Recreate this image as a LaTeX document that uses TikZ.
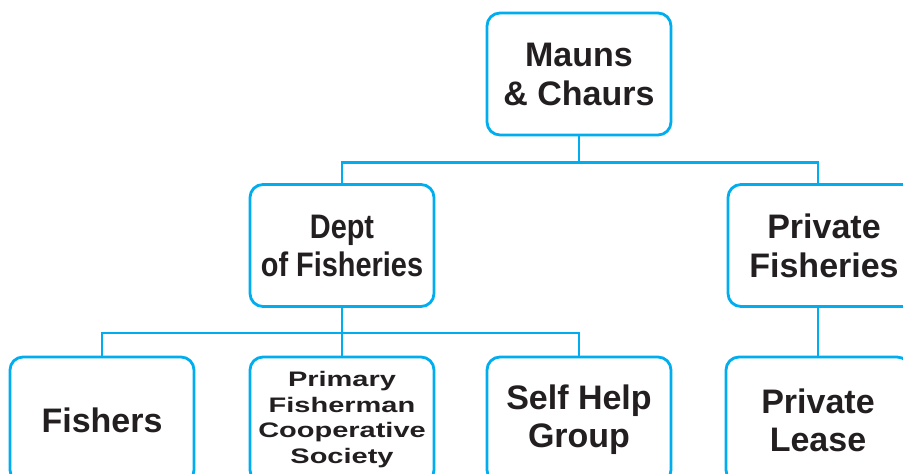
\documentclass[tikz,border=0pt]{standalone}
\usepackage{fontspec}
\setmainfont{Liberation Sans}
\newfontfamily\condfont{Liberation Sans}[FakeStretch=0.85]
\newfontfamily\widefont{Liberation Sans}[FakeStretch=1.38]
\definecolor{boxline}{HTML}{00AEEF}
\definecolor{ink}{HTML}{231F20}
\tikzset{
  orgbox/.style={draw=boxline, line width=2.8pt, rounded corners=13pt, fill=white,
    minimum width=184pt, minimum height=122pt, align=center, text=ink, inner sep=0pt,
    font=\bfseries\fontsize{34}{39}\selectfont},
  tallbox/.style={orgbox, minimum height=126pt},
  link/.style={draw=boxline, line width=2.8pt}
}
\begin{document}
\begin{tikzpicture}[x=1pt,y=1pt]
\useasboundingbox (0,0) rectangle (903,-474);
\clip (0,0) rectangle (903,-474);
\fill[white] (0,0) rectangle (903,-474);
% nodes
\node[orgbox] (mauns) at (579,-74) {Mauns\\\& Chaurs};
\node[orgbox, font=\bfseries\condfont\fontsize{34}{38}\selectfont] (dept) at (342,-245.5) {Dept\\of Fisheries};
\node[orgbox, minimum width=192pt] (priv) at (824,-245.5) {Private\\Fisheries};
\node[tallbox] (fishers) at (102,-420) {Fishers};
\node[tallbox, font=\bfseries\widefont\fontsize{21}{25.5}\selectfont] (pfcs) at (342,-420) {\raisebox{6pt}{\begin{tabular}{@{}c@{}}Primary\\Fisherman\\Cooperative\\Society\end{tabular}}};
\node[tallbox, font=\bfseries\fontsize{34}{38}\selectfont] (shg) at (579,-420) {Self Help\\Group};
\node[tallbox, font=\bfseries\fontsize{34}{38}\selectfont] (lease) at (818,-420) {Private\\Lease};
% junctions
\coordinate (j1) at ([yshift=-26pt]mauns.south);
\coordinate (j2) at ([yshift=-25pt]dept.south);
% connectors
\draw[link] (mauns.south) -- (j1);
\draw[link] (dept.north) |- (j1) -| (lease.north |- priv.north);
\draw[link] (dept.south) -- (j2);
\draw[link] (fishers.north) |- (j2) -| (shg.north);
\draw[link] (j2) -- (pfcs.north);
\draw[link] (lease.north |- priv.south) -- (lease.north);
\end{tikzpicture}
\end{document}
